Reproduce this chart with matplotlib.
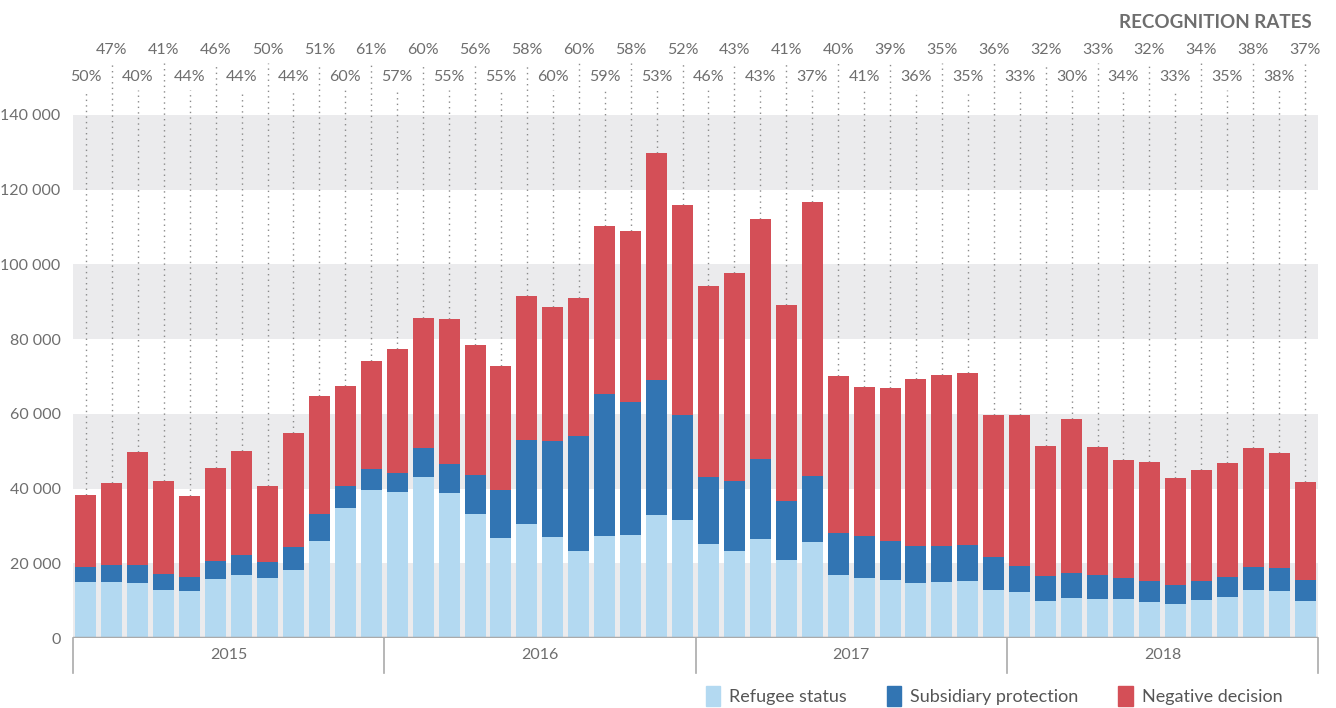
import matplotlib.pyplot as plt
import matplotlib.transforms as mtransforms
from matplotlib.patches import Patch

plt.rcParams['font.family'] = ['DejaVu Sans Condensed', 'Liberation Sans Narrow', 'Lato', 'DejaVu Sans']

# monthly decisions, thousands (2015-01 .. 2018-12)
refugee = [15.0, 15.0, 14.7, 12.8, 12.6, 15.8, 16.9, 16.1, 18.2, 26.0, 34.8, 39.6,
           39.1, 43.1, 38.8, 33.2, 26.8, 30.5, 27.0, 23.3, 27.3, 27.6, 32.9, 31.6,
           25.2, 23.3, 26.5, 20.9, 25.7, 16.9, 16.1, 15.5, 14.7, 15.0, 15.3, 12.8,
           12.3, 9.9, 10.7, 10.4, 10.4, 9.6, 9.1, 10.2, 11.0, 12.8, 12.6, 9.9]
subsidiary = [4.0, 4.5, 4.8, 4.4, 3.7, 4.8, 5.3, 4.3, 6.2, 7.3, 5.9, 5.6,
              5.1, 7.8, 7.8, 10.4, 12.8, 22.5, 25.7, 30.8, 38.0, 35.6, 36.2, 28.1,
              17.9, 18.7, 21.4, 15.8, 17.7, 11.2, 11.2, 10.5, 9.9, 9.6, 9.6, 8.9,
              7.0, 6.8, 6.7, 6.5, 5.7, 5.7, 5.1, 5.1, 5.3, 6.2, 6.2, 5.7]
negative = [19.3, 22.0, 30.3, 24.8, 21.7, 24.9, 27.8, 20.3, 30.5, 31.5, 26.8, 28.9,
            33.2, 34.8, 38.8, 34.8, 33.2, 38.5, 35.9, 36.9, 45.0, 45.7, 60.7, 56.2,
            51.1, 55.7, 64.3, 52.4, 73.3, 42.0, 39.9, 40.9, 44.7, 45.8, 46.0, 38.0,
            40.4, 34.7, 41.2, 34.2, 31.5, 31.8, 28.6, 29.7, 30.5, 31.9, 30.7, 26.2]
rates = [50, 47, 40, 41, 44, 46, 44, 50, 44, 51, 60, 61,
         57, 60, 55, 56, 55, 58, 60, 60, 59, 58, 53, 52,
         46, 43, 43, 41, 37, 40, 41, 39, 36, 35, 35, 36,
         33, 32, 30, 33, 34, 32, 33, 34, 35, 38, 38, 37]
years = ['2015', '2016', '2017', '2018']

c_ref = '#b3d9f1'
c_sub = '#3275b3'
c_neg = '#d44f57'
grey_txt = '#6e6e6e'

fig = plt.figure(figsize=(13.36, 7.08), dpi=100)
ax = fig.add_axes([73/1336, 70/708, (1318-73)/1336, 523/708])

x = list(range(len(refugee)))
ref_v = [v*1000 for v in refugee]
sub_v = [v*1000 for v in subsidiary]
neg_v = [v*1000 for v in negative]
base2 = [a+b for a, b in zip(ref_v, sub_v)]
tops = [a+b for a, b in zip(base2, neg_v)]

# alternating grey bands
for lo in [0, 40000, 80000, 120000]:
    ax.axhspan(lo, lo+20000, color='#ebebed', zorder=0, lw=0)

w = 0.81
ax.bar(x, ref_v, w, color=c_ref, zorder=2)
ax.bar(x, sub_v, w, bottom=ref_v, color=c_sub, zorder=2)
ax.bar(x, neg_v, w, bottom=base2, color=c_neg, zorder=2)

ax.set_xlim(-0.5, len(x)-0.5)
ax.set_ylim(0, 140000)
for s in ax.spines.values():
    s.set_visible(False)
ax.set_xticks([])
ax.set_yticks(range(0, 140001, 20000))
ax.set_yticklabels([f'{v:,}'.replace(',', ' ') for v in range(0, 140001, 20000)])
ax.tick_params(axis='y', length=0, pad=9, labelsize=11.5, labelcolor=grey_txt)

trans = mtransforms.blended_transform_factory(ax.transData, ax.transAxes)
ymax = 140000
for i, (t, r) in enumerate(zip(tops, rates)):
    line_top = 1.048 if i % 2 == 0 else 1.099
    lab_y = 1.072 if i % 2 == 0 else 1.124
    ax.plot([i, i], [t/ymax, line_top], transform=trans, color='#8a8a8a',
            ls=(0, (1, 3)), lw=1, clip_on=False, zorder=1)
    ax.text(i, lab_y, f'{r}%', transform=trans, ha='center', va='center',
            fontsize=11.5, color=grey_txt)

# bottom axis with year boxes
ax.axhline(0, color='#aaaaaa', lw=2.5, zorder=3)
for k in range(len(years)+1):
    xb = k*12 - 0.5
    ax.plot([xb, xb], [0, -0.066], transform=trans, color='#aaaaaa', lw=1.2,
            clip_on=False)
for k, yr in enumerate(years):
    ax.text(k*12 + 5.5, -0.033, yr, transform=trans, ha='center', va='center',
            fontsize=11.5, color=grey_txt)

fig.text(1312/1336, 1-22/708, 'RECOGNITION RATES', ha='right', va='center',
         fontsize=13.5, fontweight='bold', color=grey_txt)

handles = [Patch(color=c_ref, label='Refugee status'),
           Patch(color=c_sub, label='Subsidiary protection'),
           Patch(color=c_neg, label='Negative decision')]
leg = fig.legend(handles=handles, loc='center', bbox_to_anchor=(994/1336, 12/708),
                 ncol=3, frameon=False, fontsize=13, handlelength=0.8,
                 handleheight=1.3, handletextpad=0.5, columnspacing=2.2)
for t in leg.get_texts():
    t.set_color('#555555')

fig.savefig('out.png', dpi=100)
